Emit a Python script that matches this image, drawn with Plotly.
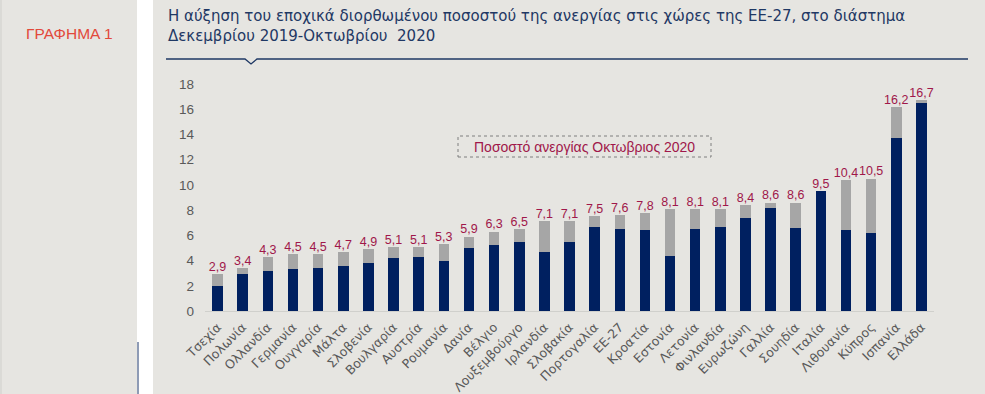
import plotly.graph_objects as go

countries = ["Τσεχία", "Πολωνία", "Ολλανδία", "Γερμανία", "Ουγγαρία", "Μάλτα", "Σλοβενία",
             "Βουλγαρία", "Αυστρία", "Ρουμανία", "Δανία", "Βέλγιο", "Λουξεμβούργο", "Ιρλανδία",
             "Σλοβακία", "Πορτογαλία", "ΕΕ-27", "Κροατία", "Εστονία", "Λετονία", "Φινλανδία",
             "Ευρωζώνη", "Γαλλία", "Σουηδία", "Ιταλία", "Λιθουανία", "Κύπρος", "Ισπανία", "Ελλάδα"]
dec2019 = [2.0, 2.9, 3.2, 3.3, 3.4, 3.6, 3.8, 4.2, 4.3, 4.0, 5.0, 5.2, 5.5, 4.7,
           5.5, 6.7, 6.5, 6.4, 4.4, 6.5, 6.7, 7.4, 8.2, 6.6, 9.5, 6.4, 6.2, 13.7, 16.5]
oct2020 = [2.9, 3.4, 4.3, 4.5, 4.5, 4.7, 4.9, 5.1, 5.1, 5.3, 5.9, 6.3, 6.5, 7.1,
           7.1, 7.5, 7.6, 7.8, 8.1, 8.1, 8.1, 8.4, 8.6, 8.6, 9.5, 10.4, 10.5, 16.2, 16.7]
increase = [round(max(o - d, 0), 2) for o, d in zip(oct2020, dec2019)]
labels = [f"{v:.1f}".replace(".", ",") for v in oct2020]
yticks = [0, 2, 4, 6, 8, 10, 12, 14, 16, 18]

title1 = "Η αύξηση του εποχικά διορθωμένου ποσοστού της ανεργίας στις χώρες της ΕΕ-27, στο διάστημα"
title2 = "Δεκεμβρίου 2019-Οκτωβρίου  2020"
side_label = "ΓΡΑΦΗΜΑ 1"
box_label = "Ποσοστό ανεργίας Οκτωβριος 2020"

W, H = 985, 394
L, R, T, B = 205, 51, 84, 83
PW, PH = W - L - R, H - T - B
BG = "#e6e5e1"
FONT = "Liberation Sans, Arial, sans-serif"
WIDE = "DejaVu Sans, Verdana, sans-serif"


def px(x):
    return (x - L) / PW


def py(y):
    return (H - B - y) / PH


fig = go.Figure()
fig.add_trace(go.Bar(x=countries, y=dec2019, marker=dict(color="#002060", line=dict(width=0)),
                     name="Δεκ 2019", hoverinfo="skip"))
fig.add_trace(go.Bar(x=countries, y=increase, marker=dict(color="#a6a6a6", line=dict(width=0)),
                     name="Αύξηση", hoverinfo="skip"))
fig.add_trace(go.Scatter(x=countries, y=oct2020, mode="text", text=labels,
                         textposition="top center",
                         textfont=dict(color="#a0174a", size=12.5, family=FONT),
                         hoverinfo="skip", cliponaxis=False))

shapes = [
    dict(type="rect", xref="paper", yref="paper", x0=px(137), x1=px(153), y0=py(394), y1=py(0),
         fillcolor="white", line=dict(width=0), layer="below"),
    dict(type="line", xref="paper", yref="paper", x0=px(1), x1=px(1), y0=py(394), y1=py(0),
         line=dict(color="#cfcfcb", width=1)),
    dict(type="line", xref="paper", yref="paper", x0=px(138), x1=px(138), y0=py(342), y1=py(394),
         line=dict(color="#8e9bb5", width=2)),
    dict(type="path", xref="paper", yref="paper",
         path=f"M {px(166)},{py(59)} L {px(245)},{py(59)} L {px(251)},{py(64)} L {px(257)},{py(59)} L {px(968)},{py(59)}",
         line=dict(color="#1f3864", width=1.3)),
    dict(type="rect", xref="paper", yref="paper", x0=px(458), x1=px(711), y0=py(157), y1=py(136),
         line=dict(color="#7f7f7f", width=1, dash="dot"), fillcolor="rgba(0,0,0,0)"),
]

annotations = [
    dict(text=title1, xref="paper", yref="paper", x=px(166), y=py(16), xanchor="left", yanchor="middle",
         showarrow=False, font=dict(family=WIDE, size=15, color="#1f3864")),
    dict(text=title2, xref="paper", yref="paper", x=px(166), y=py(36), xanchor="left", yanchor="middle",
         showarrow=False, font=dict(family=WIDE, size=15, color="#1f3864")),
    dict(text=side_label, xref="paper", yref="paper", x=px(24), y=py(33), xanchor="left", yanchor="middle",
         showarrow=False, font=dict(family=FONT, size=15.5, color="#e2493b")),
    dict(text=box_label, xref="paper", yref="paper", x=px(584.5), y=py(146.5), xanchor="center",
         yanchor="middle", showarrow=False, font=dict(family=FONT, size=14, color="#a0174a")),
]

fig.update_layout(
    width=W, height=H, autosize=False,
    margin=dict(l=L, r=R, t=T, b=B, pad=0, autoexpand=False),
    paper_bgcolor=BG, plot_bgcolor=BG,
    barmode="stack", bargap=0.58,
    showlegend=False,
    shapes=shapes, annotations=annotations,
    xaxis=dict(tickangle=-45, tickfont=dict(family=WIDE, size=12.5, color="#595959"),
               showgrid=False, showline=True, linecolor="#d0d0cc", linewidth=1,
               ticks="", zeroline=False, range=[-0.5, len(countries) - 0.5],
               ticklabelstandoff=3, automargin=False),
    yaxis=dict(range=[0, 18], tickvals=yticks, ticktext=[str(v) for v in yticks],
               tickfont=dict(family=FONT, size=13.5, color="#595959"),
               showgrid=False, zeroline=False, showline=False, ticks="",
               ticklabelstandoff=10, automargin=False),
)

fig.write_html("out.html", config={"displayModeBar": False},
               post_script="document.body.style.margin='0';")
